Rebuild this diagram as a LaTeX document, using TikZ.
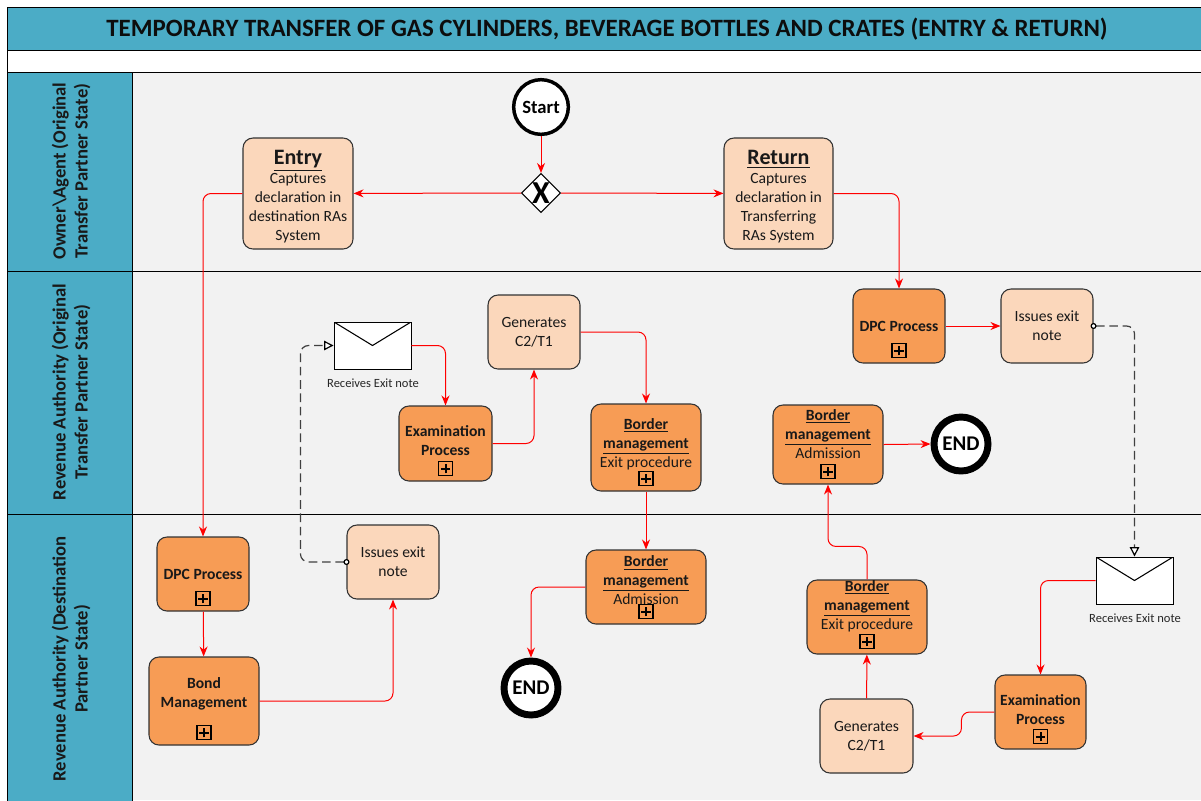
\documentclass[tikz,border=0pt]{standalone}
\usepackage{fontspec}
\setmainfont{Carlito}
\usetikzlibrary{arrows.meta,calc,shapes.geometric}
\definecolor{lanehead}{HTML}{4BACC6}
\definecolor{lanebg}{HTML}{F2F2F2}
\definecolor{taskdark}{HTML}{F79C55}
\definecolor{tasklight}{HTML}{FBD7BB}
\definecolor{flowred}{HTML}{FF0000}
\definecolor{msggray}{HTML}{404040}
\newcommand{\padlow}[1]{\rule[-#1]{0pt}{#1}}
\newcommand{\padtop}[1]{\rule{0pt}{#1}}
\tikzset{
  wh/.style 2 args={minimum width=#1*0.75pt,minimum height=#2*0.75pt},
  basebox/.style={draw=black!80,line width=0.8pt,rounded corners=7.5pt,align=center,inner sep=0pt,
    text=black!90,font=\fontsize{11.7}{14.25}\selectfont},
  lighttask/.style={basebox,fill=tasklight},
  darktask/.style={basebox,fill=taskdark},
  flow/.style={draw=flowred,line width=0.75pt,rounded corners=6pt,-{Stealth[length=7.5pt,width=6pt]}},
  msg/.style={draw=msggray,line width=0.9pt,rounded corners=6pt,dash pattern=on 6.5pt off 3.5pt,
    {Circle[open,fill=white,length=4.5pt,width=4.5pt,sep=-2.25pt,black]}-{Triangle[open,fill=white,length=7pt,width=7pt,black]}},
  lanetitle/.style={rotate=90,align=center,font=\fontsize{14}{16.5}\selectfont\bfseries,text=black!90,inner sep=0pt},
  lanehdr/.style={draw=black,line width=0.6pt,fill=lanehead,inner sep=0pt},
  plusmark/.style={draw=black,line width=0.8pt,fill=none,minimum size=10.5pt,inner sep=0pt,
    path picture={
      \draw[line width=1.5pt] ([xshift=-3.4pt]path picture bounding box.center) -- ([xshift=3.4pt]path picture bounding box.center);
      \draw[line width=1.5pt] ([yshift=-3.4pt]path picture bounding box.center) -- ([yshift=3.4pt]path picture bounding box.center);
    }},
  envelope/.style={draw=black,line width=0.7pt,fill=white,inner sep=0pt,minimum width=57.75pt,minimum height=35.25pt,
    path picture={
      \draw[line width=0.8pt] (path picture bounding box.north west) -- (path picture bounding box.center) -- (path picture bounding box.north east);
    }},
  envlabel/.style={font=\fontsize{9.4}{11}\selectfont,text=black!85,inner sep=0pt},
  endevent/.style={circle,draw=black,line width=5.2pt,fill=white,minimum size=40.5pt,inner sep=0pt,font=\fontsize{15.7}{16}\selectfont\bfseries},
}
\begin{document}
\begin{tikzpicture}[x=0.75pt,y=-0.75pt]
\useasboundingbox (0,0) rectangle (1201,800);
\fill[white] (0,0) rectangle (1201,800);
% lanes background
\fill[lanebg] (132,72) rectangle (1201,800);
% title strips
\node[draw=black,line width=0.6pt,fill=lanehead,wh={1196}{43},inner sep=0pt,anchor=north west] (title) at (7,7) {};
\node[inner sep=0pt,font=\fontsize{18.7}{20}\selectfont\bfseries,text=black!95] (titletext) at (607,29) {TEMPORARY TRANSFER OF GAS CYLINDERS, BEVERAGE BOTTLES AND CRATES (ENTRY \& RETURN)};
\node[draw=black,line width=0.6pt,fill=white,wh={1196}{22},inner sep=0pt,anchor=north west] (strip) at (7,50) {};
% lane headers
\node[lanehdr,wh={125}{199},anchor=north west] (h1) at (7,72) {};
\node[lanehdr,wh={125}{243},anchor=north west] (h2) at (7,271) {};
\node[lanehdr,wh={125}{288},anchor=north west] (h3) at (7,514) {};
\node[lanetitle] (t1) at (71,171) {Owner\textbackslash Agent (Original\\Transfer Partner State)};
\node[lanetitle] (t2) at (71,392) {Revenue Authority (Original\\Transfer Partner State)};
\node[lanetitle] (t3) at (71,659) {Revenue Authority (Destination\\Partner State)};
\draw[black,line width=0.75pt] (132,72) -- (1201,72) (132,271) -- (1201,271) (132,514) -- (1201,514);
% events and gateway
\node[circle,draw=black,line width=2.6pt,fill=white,minimum size=41pt,inner sep=0pt,font=\fontsize{14}{14}\selectfont\bfseries] (start) at (541,107) {Start};
\node[diamond,draw=black,line width=0.8pt,fill=white,wh={39}{39},inner sep=0pt,font=\fontsize{24}{24}\selectfont\bfseries] (gw) at (541,193) {X};
% lane 1
\node[lighttask,wh={110}{111}] (entry) at (298,193.5) {\padtop{16pt}{\fontsize{16.5}{20}\selectfont\bfseries\underline{Entry}}\\Captures\\declaration in\\destination RAs\\System};
\node[lighttask,wh={109}{111}] (return) at (778.5,193.5) {\padtop{16pt}{\fontsize{16.5}{20}\selectfont\bfseries\underline{Return}}\\Captures\\declaration in\\Transferring\\RAs System};
% lane 2
\node[darktask,wh={92}{74}] (dpcb) at (899,326) {\bfseries DPC Process};
\node[lighttask,wh={92}{74}] (issb) at (1047,326) {Issues exit\\note};
\node[lighttask,wh={92}{74}] (genb) at (534,332) {Generates\\C2/T1};
\node[envelope] (enva) at (372.5,345.5) {};
\node[envlabel] (enval) at (373,383) {Receives Exit note};
\node[darktask,wh={93}{75}] (exama) at (445.5,443.5) {\bfseries Examination\\\bfseries Process\padlow{5pt}};
\node[darktask,wh={110}{87}] (bexa) at (646,447.5) {\bfseries\underline{Border}\\\bfseries\underline{management}\\Exit procedure\padlow{7pt}};
\node[darktask,wh={110}{79}] (bada) at (828,444.5) {\bfseries\underline{Border}\\\bfseries\underline{management}\\Admission\padlow{15.5pt}};
\node[endevent] (enda) at (961,444) {END};
% lane 3
\node[darktask,wh={92}{74}] (dpca) at (203,574) {\bfseries DPC Process};
\node[lighttask,wh={92}{74}] (issa) at (393,562) {Issues exit\\note};
\node[darktask,wh={110}{88}] (bond) at (204,701) {\bfseries Bond\\\bfseries Management\padlow{12.5pt}};
\node[darktask,wh={120}{74}] (badb) at (646,587) {\bfseries\underline{Border}\\\bfseries\underline{management}\\Admission\padlow{10pt}};
\node[endevent] (endb) at (531,688) {END};
\node[darktask,wh={120}{74}] (bexb) at (867,617) {\bfseries\underline{Border}\\\bfseries\underline{management}\\Exit procedure\padlow{18pt}};
\node[lighttask,wh={93}{74}] (genc) at (866.5,736) {Generates\\C2/T1};
\node[darktask,wh={91}{74}] (examb) at (1040.5,712) {\bfseries Examination\\\bfseries Process\padlow{3.5pt}};
\node[envelope] (envb) at (1134.5,580.5) {};
\node[envlabel] (envbl) at (1135,618) {Receives Exit note};
% sub-process markers
\foreach \n/\t in {dpcb/m1,exama/m2,bexa/m3,bada/m4,dpca/m5,bond/m6,badb/m7,bexb/m8,examb/m9}
  \node[plusmark,anchor=south] (\t) at ([yshift=3.8pt]\n.south) {};
% connectors
\draw[flow] (start) -- (gw);
\draw[flow] (gw) -- (entry);
\draw[flow] (gw) -- (return);
\draw[flow] (entry.west) -| (dpca.north);
\draw[flow] (return.east) -| (dpcb.north);
\draw[flow] (dpcb) -- (issb);
\draw[msg] (issb.east) -| (envb.north);
\draw[flow] (enva.east) -| (exama.north);
\draw[flow] (exama.east) -| (genb.south);
\draw[flow] (genb.east) -| (bexa.north);
\draw[flow] (bexa) -- (badb);
\draw[flow] (badb.west) -| (endb.north);
\draw[flow] (bada.east) -- (enda.west);
\draw[flow] (dpca) -- (bond);
\draw[flow] (bond.east) -| (issa.south);
\draw[msg] (issa.west) -- ++(-46,0) |- (enva.west);
\draw[flow] (envb.west) -| (examb.north);
\draw[flow] (examb.west) -- ++(-33,0) |- (genc.east);
\draw[flow] (genc) -- (bexb);
\draw[flow] (bexb.north) -- ++(0,-33) -| (bada.south);
\end{tikzpicture}
\end{document}
